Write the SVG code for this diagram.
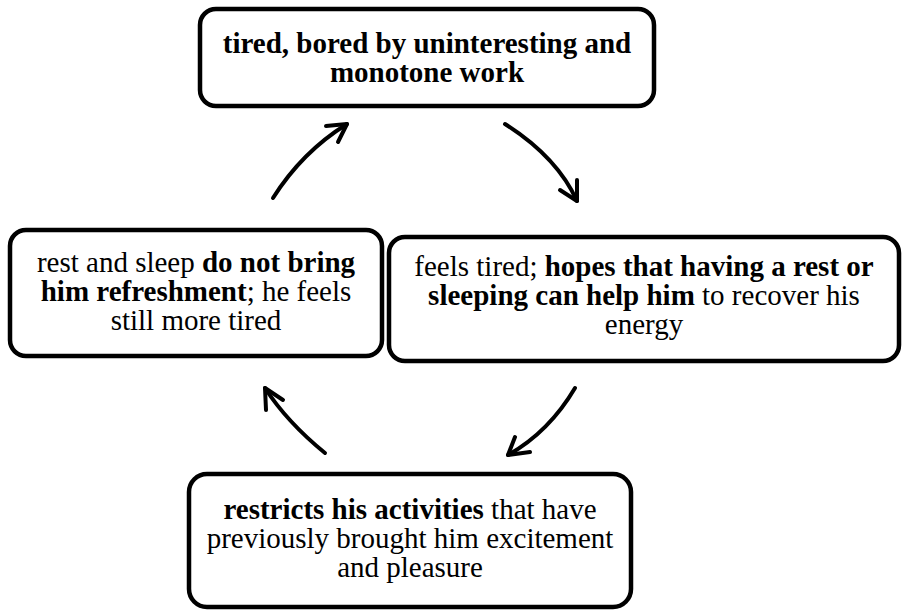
<svg xmlns="http://www.w3.org/2000/svg" width="902" height="610" viewBox="0 0 902 610">
<style>
.box{fill:#fff;stroke:#000;stroke-width:4.5}
text{font-family:'Liberation Serif','DejaVu Serif','Times New Roman',serif;font-size:29px;fill:#000;text-anchor:middle}
.b{font-weight:bold}
.arr{fill:none;stroke:#000;stroke-width:4;stroke-linecap:round;stroke-linejoin:round}
</style>
<rect width="902" height="610" fill="#fff"/>
<g id="node-top">
<rect class="box" x="200" y="9" width="454" height="97" rx="16"/>
<text font-family="Liberation Serif, serif" class="b" x="427" y="53">tired, bored by uninteresting and</text>
<text font-family="Liberation Serif, serif" class="b" x="427" y="82">monotone work</text>
</g>
<g id="node-right">
<rect class="box" x="389" y="237" width="510" height="124" rx="16"/>
<text font-family="Liberation Serif, serif" x="644" y="276">feels tired; <tspan class="b">hopes that having a rest or</tspan></text>
<text font-family="Liberation Serif, serif" x="644" y="305"><tspan class="b">sleeping can help him</tspan> to recover his</text>
<text font-family="Liberation Serif, serif" x="644" y="334">energy</text>
</g>
<g id="node-bottom">
<rect class="box" x="189" y="474" width="442" height="133" rx="18"/>
<text font-family="Liberation Serif, serif" x="410" y="519"><tspan class="b">restricts his activities</tspan> that have</text>
<text font-family="Liberation Serif, serif" x="410" y="548">previously brought him excitement</text>
<text font-family="Liberation Serif, serif" x="410" y="577">and pleasure</text>
</g>
<g id="node-left">
<rect class="box" x="10" y="230" width="372" height="126" rx="16"/>
<text font-family="Liberation Serif, serif" x="196" y="272">rest and sleep <tspan class="b">do not bring</tspan></text>
<text font-family="Liberation Serif, serif" x="196" y="301"><tspan class="b">him refreshment</tspan>; he feels</text>
<text font-family="Liberation Serif, serif" x="196" y="330">still more tired</text>
</g>
<g id="connectors">
<path class="arr" d="M273,198 Q302,152 347,124"/>
<polyline class="arr" points="326,126 347,124 338,142"/>
<path class="arr" d="M505,124 Q557,157 577,201"/>
<polyline class="arr" points="560,190 577,201 577,180"/>
<path class="arr" d="M575,388 Q549,432 508,455"/>
<polyline class="arr" points="515,437 508,455 530,452"/>
<path class="arr" d="M325,453 Q287,422 265,388"/>
<polyline class="arr" points="266,410 265,388 283,400"/>
</g>
</svg>
